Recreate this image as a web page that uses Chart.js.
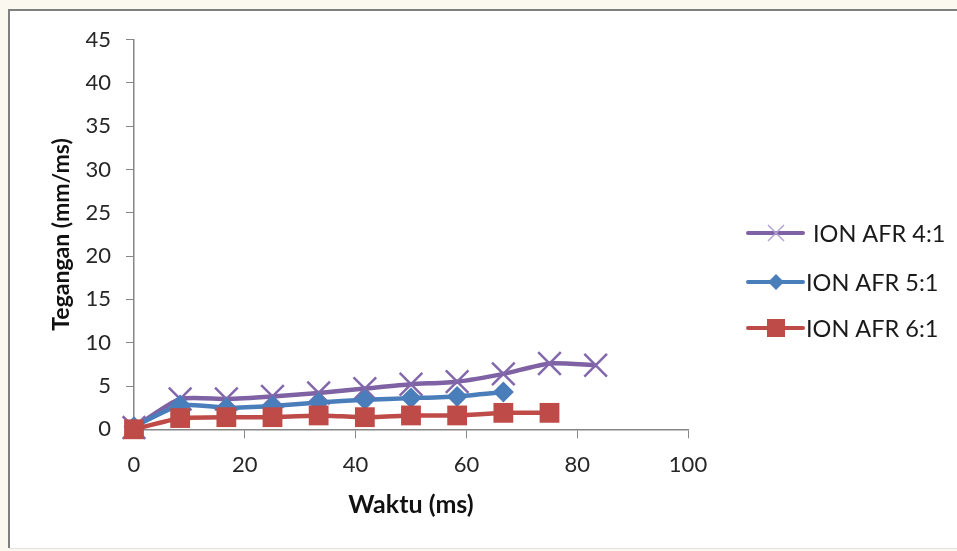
<!DOCTYPE html>
<html>
<head>
<meta charset="utf-8">
<script src="https://cdn.jsdelivr.net/npm/chart.js@4.4.1/dist/chart.umd.min.js"></script>
<style>
html,body{margin:0;padding:0;background:#fbf9ef;}
canvas{display:block;}
</style>
</head>
<body>
<canvas id="c" width="957" height="551"></canvas>
<script>
// ---- data ----
const timeMs = [0, 8.33, 16.67, 25, 33.33, 41.67, 50, 58.33, 66.67, 75, 83.33];
const labels = ['ION AFR 4:1', 'ION AFR 5:1', 'ION AFR 6:1'];
const afr4 = [0.2, 3.5, 3.5, 3.8, 4.2, 4.7, 5.2, 5.5, 6.4, 7.6, 7.4];
const afr5 = [0.3, 2.8, 2.5, 2.7, 3.1, 3.4, 3.6, 3.8, 4.3];
const afr6 = [0.0, 1.3, 1.4, 1.4, 1.6, 1.4, 1.6, 1.6, 1.9, 1.9];
const xTitle = 'Waktu (ms)';
const yTitle = 'Tegangan (mm/ms)';

const toXY = arr => arr.map((v, i) => ({x: timeMs[i], y: v}));

const PURPLE = '#7F62A4', BLUE = '#4A7EBB', RED = '#BE4B48';
const AXIS = '#868686';
const FONT = 'Lato, "Open Sans", sans-serif';

const framePlugin = {
  id: 'frame',
  beforeDraw(chart) {
    const ctx = chart.ctx;
    ctx.save();
    ctx.fillStyle = '#fbf9ef';
    ctx.fillRect(0, 0, chart.width, chart.height);
    ctx.fillStyle = '#ffffff';
    ctx.fillRect(9, 10, chart.width, 538);
    ctx.strokeStyle = '#e2e2e2';
    ctx.lineWidth = 1;
    ctx.beginPath(); ctx.moveTo(9, 548.5); ctx.lineTo(chart.width, 548.5); ctx.stroke();
    ctx.strokeStyle = '#7f7f7f';
    ctx.lineWidth = 2;
    ctx.beginPath(); ctx.moveTo(9, 548); ctx.lineTo(9, 10); ctx.lineTo(chart.width, 10); ctx.stroke();
    ctx.restore();
  }
};

const legendPlugin = {
  id: 'customLegend',
  afterDraw(chart) {
    const ctx = chart.ctx;
    const rows = [233, 282, 328];
    ctx.save();
    chart.data.datasets.forEach((ds, k) => {
      const y = rows[k];
      const x0 = 748, x1 = 803, cx = 776;
      ctx.strokeStyle = ds.borderColor;
      ctx.lineWidth = 4;
      ctx.lineCap = 'round';
      ctx.beginPath(); ctx.moveTo(x0, y); ctx.lineTo(x1, y); ctx.stroke();
      ctx.lineCap = 'butt';
      const st = ds.pointStyle;
      if (st === 'crossRot') {
        ctx.strokeStyle = '#b3a2d3';
        ctx.lineWidth = 1.5;
        const r = 8;
        ctx.beginPath();
        ctx.moveTo(cx - r, y - r); ctx.lineTo(cx + r, y + r);
        ctx.moveTo(cx - r, y + r); ctx.lineTo(cx + r, y - r);
        ctx.stroke();
      } else if (st === 'rectRot') {
        ctx.fillStyle = ds.pointBackgroundColor;
        const r = 8;
        ctx.beginPath();
        ctx.moveTo(cx - r, y); ctx.lineTo(cx, y - r); ctx.lineTo(cx + r, y); ctx.lineTo(cx, y + r);
        ctx.closePath(); ctx.fill();
      } else {
        ctx.fillStyle = ds.pointBackgroundColor;
        ctx.fillRect(cx - 9, y - 9, 18, 18);
      }
      ctx.fillStyle = '#1a1a1a';
      ctx.font = '23.5px ' + FONT;
      ctx.textBaseline = 'middle';
      ctx.textAlign = 'left';
      ctx.fillText(ds.label, k === 0 ? 813 : 806, y + 1);
    });
    ctx.restore();
  }
};

new Chart(document.getElementById('c'), {
  type: 'line',
  data: {
    datasets: [
      {
        label: labels[0], data: toXY(afr4), order: 2, clip: false,
        borderColor: PURPLE, borderWidth: 4.5, tension: 0.2,
        pointStyle: 'crossRot', pointRadius: 16, pointBorderWidth: 2.5,
        pointBorderColor: '#8268ab', pointBackgroundColor: '#8268ab'
      },
      {
        label: labels[1], data: toXY(afr5), order: 1, clip: false,
        borderColor: BLUE, borderWidth: 4.5, tension: 0.15,
        pointStyle: 'rectRot', pointRadius: 10.5, pointBorderWidth: 0,
        pointBorderColor: BLUE, pointBackgroundColor: BLUE
      },
      {
        label: labels[2], data: toXY(afr6), order: 0, clip: false,
        borderColor: RED, borderWidth: 4.5, tension: 0.1,
        pointStyle: 'rect', pointRadius: 14, pointBorderWidth: 0,
        pointBorderColor: RED, pointBackgroundColor: RED
      }
    ]
  },
  options: {
    responsive: false,
    animation: false,
    devicePixelRatio: 1,
    layout: { padding: { left: 0, right: 269, top: 39.6, bottom: 0 } },
    plugins: { legend: { display: false }, tooltip: { enabled: false } },
    scales: {
      x: {
        type: 'linear', min: 0, max: 100,
        afterFit(s) { s.height = 121.7; },
        ticks: { stepSize: 20, color: '#262626', font: { family: FONT, size: 22 }, padding: 13 },
        grid: { drawOnChartArea: false, drawTicks: true, tickLength: 9, color: AXIS },
        border: { display: true, color: AXIS, width: 1.5 },
        title: { display: true, text: xTitle, color: '#111', font: { family: FONT, size: 25, weight: 'bold' }, padding: { top: 0, bottom: 31 } }
      },
      y: {
        type: 'linear', min: 0, max: 45,
        afterFit(s) { s.width = 134; },
        ticks: { stepSize: 5, color: '#262626', font: { family: FONT, size: 22 }, padding: 15 },
        grid: { drawOnChartArea: false, drawTicks: true, tickLength: 8, color: AXIS },
        border: { display: true, color: AXIS, width: 1.5 },
        title: { display: true, text: yTitle, color: '#111', font: { family: FONT, size: 23, weight: 'bold' }, padding: { top: 48, bottom: 0 } }
      }
    }
  },
  plugins: [framePlugin, legendPlugin]
});
</script>
</body>
</html>
